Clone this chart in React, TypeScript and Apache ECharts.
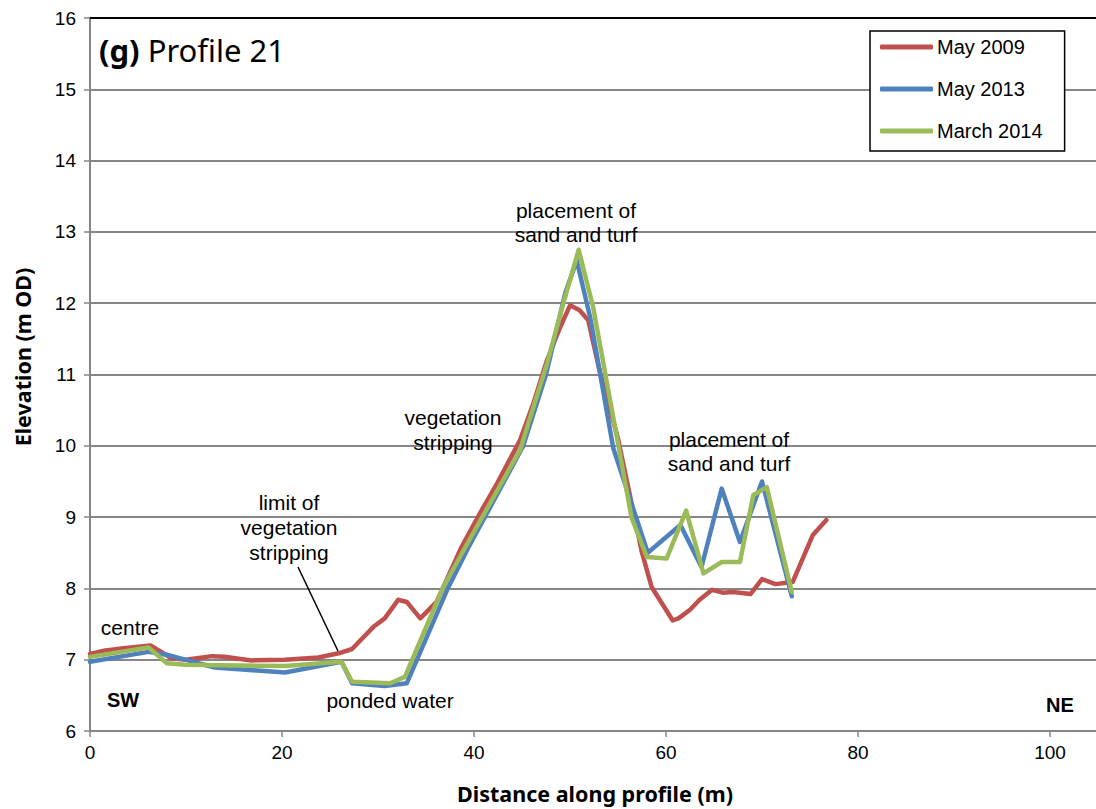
import React, { useEffect, useRef } from "react";
import * as echarts from "echarts";

const seriesNames = ["May 2009", "May 2013", "March 2014"];
const seriesColors = ["#C0504D", "#4F81BD", "#9BBB59"];

const may2009X = [0, 1.6, 3.5, 6.3, 8.5, 10, 12.7, 14, 16.8, 20.3, 23.8, 25.9, 27.3, 29.6, 30.7, 32.1, 33, 34.4, 36.1, 38.7, 40.6, 42.4, 44.8, 46.2, 47.6, 49, 50, 51, 51.9, 53, 55, 57.5, 58.5, 60.7, 61.3, 62.5, 63.5, 64.8, 65.9, 67, 68.8, 70, 71.4, 73.2, 75.3, 76.7];
const may2009Y = [7.08, 7.13, 7.16, 7.2, 7.02, 7.0, 7.05, 7.04, 6.99, 7.0, 7.03, 7.09, 7.15, 7.47, 7.58, 7.84, 7.81, 7.58, 7.81, 8.58, 9.05, 9.47, 10.08, 10.6, 11.2, 11.67, 11.97, 11.9, 11.76, 11.1, 10.1, 8.5, 8.02, 7.55, 7.58, 7.7, 7.84, 7.98, 7.94, 7.95, 7.92, 8.13, 8.06, 8.09, 8.75, 8.96];

const may2013X = [0, 6.1, 8, 9.9, 13, 20.3, 26.2, 27.3, 30.7, 33, 37.2, 39.4, 45.1, 47.5, 49.5, 50.7, 52.1, 54.5, 58.1, 61.5, 63.7, 65.8, 67.7, 70, 73.1];
const may2013Y = [6.97, 7.11, 7.07, 7.0, 6.89, 6.82, 6.97, 6.67, 6.63, 6.67, 7.98, 8.57, 9.99, 11.0, 12.14, 12.6, 11.8, 9.97, 8.5, 8.89, 8.3, 9.4, 8.65, 9.5, 7.89];

const march2014X = [0, 6.1, 8, 9.9, 20.3, 26.2, 27.3, 31.25, 32.8, 36.8, 39.06, 44.8, 46.2, 47.6, 49.1, 50.9, 52.4, 56.4, 58, 60.07, 62.1, 63.9, 65.8, 67.7, 69.1, 70.5, 73.1];
const march2014Y = [7.04, 7.17, 6.95, 6.93, 6.91, 6.97, 6.69, 6.67, 6.76, 8.02, 8.57, 9.94, 10.55, 11.15, 11.9, 12.75, 11.95, 9.0, 8.44, 8.42, 9.09, 8.21, 8.37, 8.37, 9.31, 9.42, 7.95];

const xTickValues = [0, 20, 40, 60, 80, 100];

const pairs = (xs: number[], ys: number[]) => xs.map((x, i) => [x, ys[i]]);

const ARIAL = "'Liberation Sans', Arial, sans-serif";
const CALIBRI = "'Noto Sans', 'Open Sans', sans-serif";

export default function App() {
  const ref = useRef<HTMLDivElement>(null);
  useEffect(() => {
    if (!ref.current) return;
    const chart = echarts.init(ref.current, undefined, { renderer: "svg" });
    const data = [pairs(may2009X, may2009Y), pairs(may2013X, may2013Y), pairs(march2014X, march2014Y)];
    const annText = (text: string, x: number, y: number, lh = 25, extra: any = {}) => ({
      type: "text",
      x,
      y,
      style: {
        text,
        fill: "#000",
        fontFamily: ARIAL,
        fontSize: 21,
        lineHeight: lh,
        align: "center",
        verticalAlign: "middle",
        ...extra,
      },
      z: 10,
    });
    chart.setOption({
      animation: false,
      backgroundColor: "#fff",
      grid: { left: 90, right: 0, top: 18, bottom: 78, containLabel: false },
      xAxis: {
        type: "value",
        min: 0,
        max: 104.79,
        interval: 20,
        axisLine: { show: true, onZero: false, lineStyle: { color: "#868686", width: 2 } },
        axisTick: { show: true, length: 6, customValues: xTickValues, lineStyle: { color: "#868686", width: 1.5 } },
        axisLabel: { customValues: xTickValues, color: "#000", fontSize: 19, fontFamily: ARIAL, margin: 12 },
        splitLine: { show: false },
      },
      yAxis: {
        type: "value",
        min: 6,
        max: 16,
        interval: 1,
        axisLine: { show: true, lineStyle: { color: "#868686", width: 2 } },
        axisTick: { show: true, length: 6, lineStyle: { color: "#868686", width: 1.5 } },
        axisLabel: { color: "#000", fontSize: 19, fontFamily: ARIAL, margin: 14 },
        splitLine: { show: true, lineStyle: { color: "#868686", width: 2 } },
      },
      legend: {
        orient: "vertical",
        left: 870,
        top: 31,
        padding: [6, 22, 10, 10],
        itemGap: 22,
        itemWidth: 53,
        itemHeight: 5,
        icon: "roundRect",
        borderColor: "#000",
        borderWidth: 1.5,
        backgroundColor: "#fff",
        textStyle: { color: "#000", fontSize: 20, fontFamily: ARIAL, lineHeight: 20, padding: [0, 0, 0, -1] },
        data: seriesNames,
      },
      series: seriesNames.map((name, i) => ({
        name,
        type: "line",
        data: data[i],
        showSymbol: false,
        symbol: "none",
        color: seriesColors[i],
        lineStyle: { color: seriesColors[i], width: 4.5, join: "round", cap: "round" },
        z: 2 + i,
      })),
      graphic: [
        { type: "line", shape: { x1: 90, y1: 18, x2: 1096, y2: 18 }, style: { stroke: "#000", lineWidth: 2 }, z: 5 },
        {
          type: "text",
          x: 99,
          y: 50,
          style: {
            text: "{b|(g)}{n| Profile 21}",
            verticalAlign: "middle",
            rich: {
              b: { fontFamily: CALIBRI, fontSize: 31, fontWeight: "bold", fill: "#000" },
              n: { fontFamily: CALIBRI, fontSize: 31, fill: "#000" },
            },
          },
          z: 10,
        },
        {
          type: "text",
          x: 22,
          y: 357,
          rotation: Math.PI / 2,
          style: { text: "Elevation (m OD)", fontFamily: CALIBRI, fontSize: 21.5, fontWeight: "bold", fill: "#000", align: "center", verticalAlign: "middle" },
        },
        {
          type: "text",
          x: 595,
          y: 793,
          style: { text: "Distance along profile (m)", fontFamily: CALIBRI, fontSize: 21.5, fontWeight: "bold", fill: "#000", align: "center", verticalAlign: "middle" },
        },
        annText("centre", 130, 627),
        annText("limit of\nvegetation\nstripping", 289, 527),
        annText("ponded water", 390, 700),
        annText("vegetation\nstripping", 453, 430),
        annText("placement of\nsand and turf", 576, 222, 24),
        annText("placement of\nsand and turf", 729, 451, 24),
        annText("SW", 123, 700, 20, { fontWeight: "bold", fontSize: 20 }),
        annText("NE", 1060, 705, 20, { fontWeight: "bold", fontSize: 20 }),
        { type: "line", shape: { x1: 298, y1: 567, x2: 338, y2: 651 }, style: { stroke: "#000", lineWidth: 1.5 }, z: 10 },
      ],
    });
    return () => chart.dispose();
  }, []);
  return <div ref={ref} style={{ position: "fixed", left: 0, top: 0, width: 1096, height: 809 }} />;
}
